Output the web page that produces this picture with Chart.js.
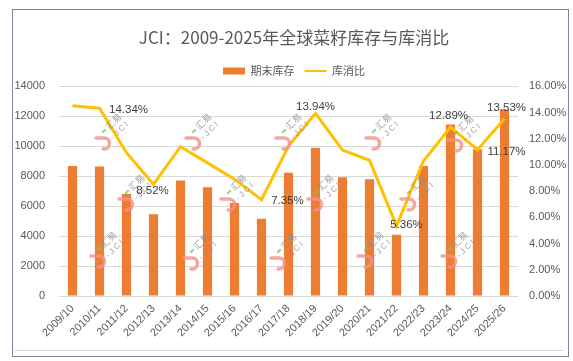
<!DOCTYPE html>
<html>
<head>
<meta charset="utf-8">
<script src="https://cdn.jsdelivr.net/npm/chart.js@4.4.1/dist/chart.umd.min.js"></script>
<style>
html, body { margin: 0; padding: 0; background: #fff; }
#wrap { position: relative; width: 573px; height: 361px; }
#frame { position: absolute; left: 12px; top: 9px; width: 555px; height: 346px; border: 1px solid #7a8599; pointer-events: none; }
#under { position: absolute; left: 14px; top: 350px; width: 549px; height: 1px; background: #d9d9d9; }
</style>
</head>
<body>
<div id="wrap">
    <canvas id="chart" width="573" height="361"></canvas>
    <div id="under"></div>
    <div id="frame"></div>
</div>
<script>
// data
const categories = ['2009/10', '2010/11', '2011/12', '2012/13', '2013/14', '2014/15', '2015/16', '2016/17',
    '2017/18', '2018/19', '2019/20', '2020/21', '2021/22', '2022/23', '2023/24', '2024/25', '2025/26'];
const endStocks = [8680, 8650, 6820, 5460, 7720, 7260, 6220, 5160, 8230, 9910, 7940, 7790, 4090, 8690, 11460, 9800, 12450];
const stockRatio = [14.53, 14.34, 10.94, 8.52, 11.40, 10.16, 8.92, 7.35, 11.45, 13.94, 11.14, 10.36, 5.36, 10.31, 12.89, 11.17, 13.53];
const labeledPoints = [1, 3, 7, 9, 12, 14, 15, 16];
const leftTicks = [0, 2000, 4000, 6000, 8000, 10000, 12000, 14000];
const rightTicks = [0, 2, 4, 6, 8, 10, 12, 14, 16];

const labelFont = '"Liberation Sans", Arial, sans-serif';
const cjkFont = '"Noto Sans CJK SC", "Noto Sans", sans-serif';

// value labels on the ratio line
const pointLabels = {
    id: 'pointLabels',
    afterDatasetsDraw(chart) {
        const meta = chart.getDatasetMeta(0);
        const shift = { 1: [29, 2], 3: [-1, 6], 7: [26, 1], 9: [0, -7], 12: [10, -1], 14: [-2, -11], 15: [29, 2], 16: [2, -11] };
        const ctx = chart.ctx;
        ctx.save();
        ctx.font = '11.5px ' + labelFont;
        ctx.fillStyle = '#404040';
        ctx.textAlign = 'center';
        ctx.textBaseline = 'middle';
        labeledPoints.forEach(i => {
            const pt = meta.data[i];
            const d = shift[i] || [0, 0];
            ctx.fillText(stockRatio[i].toFixed(2) + '%', pt.x + d[0], pt.y + d[1]);
        });
        ctx.restore();
    }
};

// faint "汇易 JCI" watermark
const watermark = {
    id: 'watermark',
    afterDatasetsDraw(chart) {
        const spots = [[110, 132], [200, 132], [290, 132], [380, 132], [462, 134],
            [133, 193], [235, 193], [322, 193], [415, 193],
            [105, 250], [198, 252], [285, 252], [372, 250], [456, 250]];
        const ctx = chart.ctx;
        spots.forEach(([x, y]) => {
            ctx.save();
            ctx.translate(x, y);
            ctx.globalAlpha = 0.8;
            // pink hook
            ctx.strokeStyle = '#f39189';
            ctx.lineWidth = 3.5;
            ctx.lineCap = 'round';
            ctx.beginPath();
            ctx.moveTo(-14, 6);
            ctx.lineTo(-6, 6);
            ctx.arc(-6, 11.5, 5.5, -Math.PI / 2, Math.PI * 0.55);
            ctx.stroke();
            ctx.rotate(-Math.PI / 4);
            ctx.fillStyle = '#7cc47c';
            ctx.fillRect(-6, -6, 5, 2);
            ctx.fillStyle = '#8a8a8a';
            ctx.font = '9px ' + cjkFont;
            ctx.textBaseline = 'middle';
            ctx.fillText('汇易', 1, -5);
            ctx.font = '8px ' + labelFont;
            ctx.fillText('- J C I', -3, 6);
            ctx.restore();
        });
    }
};

const ctx = document.getElementById('chart').getContext('2d');
new Chart(ctx, {
    data: {
        labels: categories,
        datasets: [
            {
                type: 'line',
                label: '库消比',
                data: stockRatio,
                yAxisID: 'y1',
                borderColor: '#FFC000',
                backgroundColor: '#FFC000',
                borderWidth: 3,
                pointRadius: 0,
                tension: 0
            },
            {
                type: 'bar',
                label: '期末库存',
                data: endStocks,
                yAxisID: 'y',
                backgroundColor: '#ED7D31',
                borderWidth: 0,
                barPercentage: 0.34,
                categoryPercentage: 1
            }
        ]
    },
    options: {
        responsive: false,
        animation: false,
        layout: { padding: { left: 15, right: 0, top: 0, bottom: 0 } },
        plugins: {
            title: {
                display: true,
                text: 'JCI：2009-2025年全球菜籽库存与库消比',
                color: '#595959',
                font: { family: cjkFont, size: 17, weight: 'normal' },
                padding: { top: 27, bottom: 8 }
            },
            legend: {
                display: true,
                labels: {
                    color: '#595959',
                    font: { family: cjkFont, size: 11 },
                    usePointStyle: true,
                    pointStyleWidth: 22,
                    boxHeight: 7,
                    padding: 10,
                    generateLabels: chart => {
                        const items = Chart.defaults.plugins.legend.labels.generateLabels(chart);
                        items.forEach(it => {
                            if (it.datasetIndex === 1) {
                                it.pointStyle = 'rect';
                            } else {
                                it.pointStyle = 'line';
                                it.lineWidth = 2;
                            }
                        });
                        return items.sort((a, b) => b.datasetIndex - a.datasetIndex);
                    }
                }
            },
            tooltip: { enabled: false }
        },
        scales: {
            x: {
                offset: true,
                grid: { display: false, drawTicks: false },
                border: { display: false },
                ticks: {
                    color: '#595959',
                    font: { family: labelFont, size: 11 },
                    minRotation: 45,
                    maxRotation: 45,
                    autoSkip: false,
                    padding: 6
                },
                afterFit: s => { s.height = 65; }
            },
            y: {
                position: 'left',
                min: 0,
                max: 14000,
                grid: { color: '#d9d9d9', drawTicks: false },
                border: { display: false },
                ticks: {
                    color: '#595959',
                    font: { family: labelFont, size: 11 },
                    padding: 14,
                    callback: v => String(v)
                },
                afterBuildTicks: s => { s.ticks = leftTicks.map(v => ({ value: v })); },
                afterFit: s => { s.width = 44; }
            },
            y1: {
                position: 'right',
                min: 0,
                max: 16,
                grid: { drawOnChartArea: false, drawTicks: false },
                border: { display: false },
                ticks: {
                    color: '#595959',
                    font: { family: labelFont, size: 11 },
                    padding: 11,
                    callback: v => v.toFixed(2) + '%'
                },
                afterBuildTicks: s => { s.ticks = rightTicks.map(v => ({ value: v })); },
                afterFit: s => { s.width = 55; }
            }
        }
    },
    plugins: [watermark, pointLabels]
});
</script>
</body>
</html>
